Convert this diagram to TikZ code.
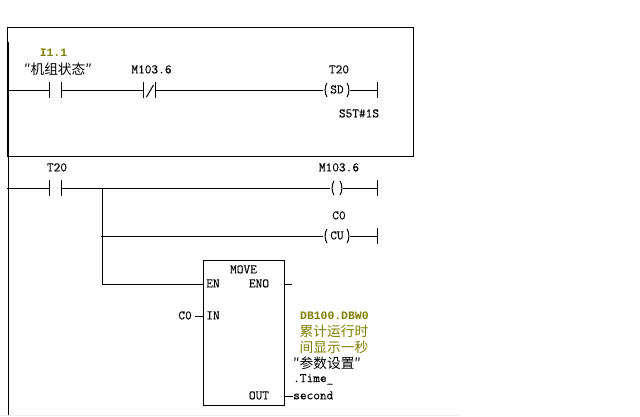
\documentclass[tikz,border=0pt]{standalone}
\usepackage{fontspec}
\newfontfamily\cjk{Noto Sans CJK SC}
\newfontfamily\monoreg[FakeBold=0.12]{Latin Modern Mono}
\newfontfamily\monobold{Liberation Mono}
\definecolor{olivetxt}{RGB}{128,128,0}
\definecolor{edge}{RGB}{238,238,234}
\tikzset{
  wire/.style={draw=black,line width=1pt},
  lbl/.style={font=\monoreg\fontsize{13}{14}\selectfont,inner sep=0pt,text=black,yshift=0.6pt},
  oliv/.style={font=\monobold\bfseries\fontsize{11.4}{14}\selectfont,inner sep=0pt,text=olivetxt},
  cjklbl/.style={font=\cjk\fontsize{13.7}{15}\selectfont,inner sep=0pt}
}
\newcommand{\lparen}[2]{\draw[wire] (#1+3,#2-7) .. controls (#1+0.5,#2-4) and (#1+0.5,#2+4) .. (#1+3,#2+7);}
\newcommand{\rparen}[2]{\draw[wire] (#1-3,#2-7) .. controls (#1-0.5,#2-4) and (#1-0.5,#2+4) .. (#1-3,#2+7);}
\begin{document}
\begin{tikzpicture}[x=1pt,y=-1pt]
\useasboundingbox (0,0) rectangle (640,416);
\fill[white] (0,0) rectangle (640,416);
\draw[draw=edge,line width=1pt] (0,415.5) -- (460,415.5);
% box
\coordinate (tl) at (7.5,27.5);
\coordinate (br) at (413.5,156.5);
\draw[wire] (tl) rectangle (br);
\draw[draw=black,line width=2pt] (8,42) -- (8,156);
\coordinate (railtop) at (8.5,156);
\coordinate (railbot) at (8.5,415);
\draw[wire] (railtop) -- (railbot);
% rung 1
\coordinate (r1l) at (8,90.5);
\coordinate (c1a) at (49.5,90.5);
\coordinate (c1b) at (61.5,90.5);
\coordinate (c2a) at (143.5,90.5);
\coordinate (c2b) at (155.5,90.5);
\coordinate (sda) at (323,90.5);
\coordinate (sdb) at (350,90.5);
\coordinate (e1) at (377.5,90.5);
\draw[wire] (r1l) -- (c1a);
\draw[wire] (c1b) -- (c2a);
\draw[wire] (c2b) -- (sda);
\draw[wire] (sdb) -- (e1);
\draw[wire] (49.5,82) -- (49.5,98);
\draw[wire] (61.5,82) -- (61.5,98);
\draw[wire] (143.5,82) -- (143.5,98);
\draw[wire] (155.5,82) -- (155.5,98);
\draw[wire] (146.5,97) -- (153.5,85);
\draw[wire] (377.5,82) -- (377.5,98);
\node[oliv] (i11) at (53.5,53) {I1.1};
\node[cjklbl] (jz) at (58,69) {″机组状态″};
\node[lbl] (m1) at (151.5,70) {M103.6};
\node[lbl] (t1) at (339,70) {T20};
\node[lbl] (sd) at (337,90) {SD};
\lparen{324}{90}
\rparen{350}{90}
\node[lbl] (s5t) at (359,114) {S5T\#1S};
% rung 2
\coordinate (r2l) at (7,188.5);
\coordinate (d1a) at (49.5,188.5);
\coordinate (d1b) at (61.5,188.5);
\coordinate (j) at (102.5,188.5);
\coordinate (ca) at (330,188.5);
\coordinate (cb) at (343,188.5);
\coordinate (e2) at (377.5,188.5);
\draw[wire] (r2l) -- (d1a);
\draw[wire] (d1b) -- (ca);
\draw[wire] (cb) -- (e2);
\draw[wire] (49.5,180) -- (49.5,196);
\draw[wire] (61.5,180) -- (61.5,196);
\draw[wire] (377.5,180) -- (377.5,196);
\node[lbl] (t2) at (57,168) {T20};
\node[lbl] (m2) at (339,168) {M103.6};
\lparen{331}{188}
\rparen{343}{188}
% rung 3
\coordinate (j2) at (101,236.5);
\coordinate (cua) at (323,236.5);
\coordinate (cub) at (350,236.5);
\coordinate (e3) at (377.5,236.5);
\coordinate (j3) at (102.5,284.5);
\draw[wire,line cap=rect] (j) -- (j3);
\draw[wire] (j2) -- (cua);
\draw[wire] (cub) -- (e3);
\draw[wire] (377.5,228) -- (377.5,244);
\node[lbl] (c0) at (339,216) {C0};
\node[lbl] (cu) at (337,236) {CU};
\lparen{324}{236}
\rparen{350}{236}
% MOVE
\node[draw=black,line width=1pt,minimum width=81pt,minimum height=145pt,inner sep=0pt,outer sep=0pt,anchor=north west] (mv) at (203,260) {};
\node[lbl] (mvt) at (243.5,270) {MOVE};
\node[lbl] (en) at (213,284) {EN};
\node[lbl] (eno) at (259,284) {ENO};
\node[lbl] (in) at (213,316) {IN};
\node[lbl] (outl) at (259,396) {OUT};
\coordinate (enl) at (mv.west |- j3);
\draw[wire] (j3) -- (enl);
\coordinate (enor) at (mv.east |- j3);
\coordinate (enoe) at (292,284.5);
\draw[wire] (enor) -- (enoe);
\node[lbl,anchor=east] (c0b) at (192,316) {C0};
\coordinate (inl) at (mv.west |- 0,316.5);
\coordinate (inr) at (195,316.5);
\draw[wire] (inr) -- (inl);
\coordinate (outr) at (mv.east |- 0,396.5);
\coordinate (oute) at (293,396.5);
\draw[wire] (outr) -- (oute);
\node[oliv,anchor=west] (db) at (300,316) {DB100.DBW0};
\node[cjklbl,text=olivetxt,anchor=west] (ljt) at (299.5,331) {累计运行时};
\node[cjklbl,text=olivetxt,anchor=west] (jxs) at (299.5,347) {间显示一秒};
\node[cjklbl,anchor=west] (cs) at (293,363) {″参数设置″};
\node[lbl,anchor=west] (tm) at (293,380) {.Time\_};
\node[lbl,anchor=west] (sec) at (293,396) {second};
\end{tikzpicture}
\end{document}
